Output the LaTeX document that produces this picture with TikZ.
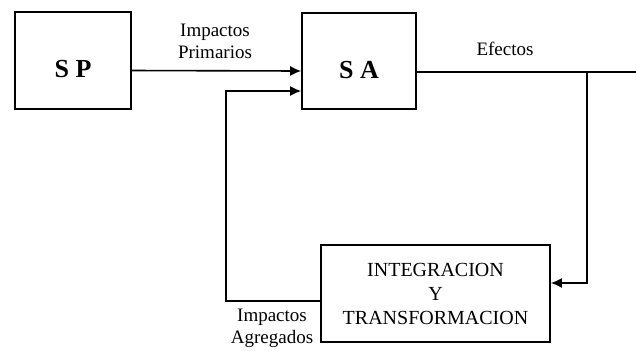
\documentclass[tikz,border=0pt]{standalone}
\usepackage{fontspec}
\setmainfont{Liberation Serif}
\usepackage{tikz}
\usetikzlibrary{arrows.meta,positioning}

\begin{document}
\begin{tikzpicture}[x=0.5pt,y=-0.5pt,
    box/.style={draw,line width=0.8pt,inner sep=0pt,align=center},
    sbox/.style={box,font=\fontsize{13}{15}\selectfont\bfseries,text height=17pt,text depth=0pt},
    flow/.style={line width=0.8pt,-{Latex[length=5.5pt,width=5pt]}},
    wire/.style={line width=0.8pt},
    lbl/.style={font=\fontsize{9.5}{11}\selectfont,align=center}]
      \useasboundingbox (0,0) rectangle (636,350);
      \node[sbox,minimum width=58pt,minimum height=48.5pt] (sp) at (73,60.5) {S P};
      \node[sbox,minimum width=57pt,minimum height=48pt] (sa) at (359,61) {S A};
      \node[box,minimum width=114.5pt,minimum height=48.5pt,font=\fontsize{10}{12}\selectfont] (it) at (435.5,293.5) {INTEGRACION\\Y\\TRANSFORMACION};
      \coordinate (out) at (636,72);
      \coordinate (br) at (587,72);
      \coordinate (fb) at (226,301);
      \draw[flow] ([yshift=-5pt]sp.east) -- ([yshift=-5pt]sa.west);
      \draw[wire] ([yshift=-5.5pt]sa.east) -- (out);
      \draw[flow] (br) |- ([yshift=5.25pt]it.east);
      \draw[flow] ([yshift=-3.75pt]it.west) -- (fb) |- ([yshift=-15pt]sa.west);
      \node[lbl] (prim) at (215,41) {Impactos\\Primarios};
      \node[lbl] (efec) at (505,49) {Efectos};
      \node[lbl] (agre) at (272,328) {Impactos\\Agregados};
\end{tikzpicture}
\end{document}
